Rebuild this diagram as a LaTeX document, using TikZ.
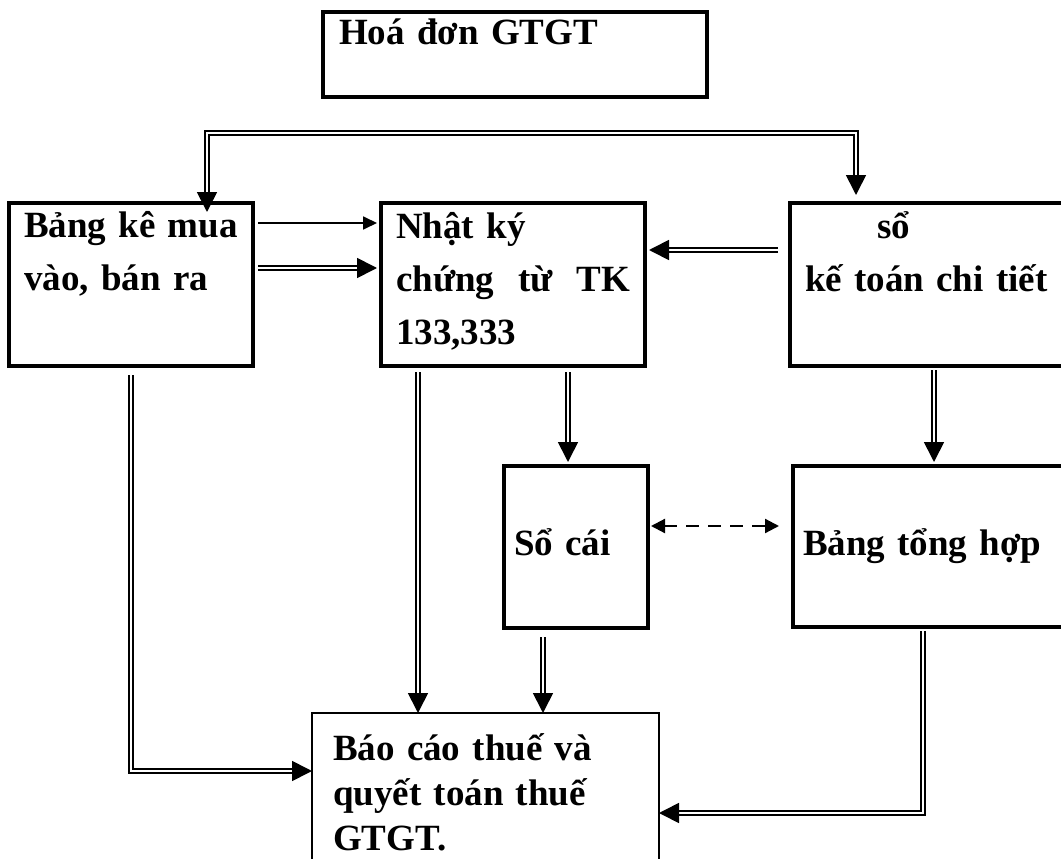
\documentclass[tikz,border=0pt]{standalone}
\usepackage{fontspec}
\setmainfont{Liberation Serif}
\usetikzlibrary{arrows.meta}

\begin{document}
\begin{tikzpicture}[x=1pt, y=1pt,
  box/.style={rectangle, draw, line width=4pt, anchor=north west, outer sep=0pt, inner xsep=15pt, inner ysep=0pt, align=left, font=\bfseries\fontsize{37}{53}\selectfont},
  thinbox/.style={box, line width=2pt},
  dbl/.style={double, line width=1.7pt, double distance=2.6pt, -{Triangle[length=20pt,width=20pt]}},
  arr/.style={line width=1.8pt, -{Triangle[length=14pt,width=13pt]}},
  dsh/.style={line width=2.2pt, dash pattern=on 13pt off 9pt, {Triangle[length=14pt,width=14pt]}-{Triangle[length=14pt,width=14pt]}}
]
\useasboundingbox (0,0) rectangle (1061,-859);
\clip (0,0) rectangle (1061,-859);

% Top: invoice
\node[box, inner xsep=16pt, text width=352pt, text height=33pt, text depth=52pt] (hoadon) at (323,-12) {Hoá đơn GTGT};

% First row
\node[box, text width=214pt, text height=34pt, text depth=129pt] (bangke) at (9,-203) {Bảng kê mua\\vào, bán ra};
\node[box, text width=234pt, text height=35pt, text depth=128pt] (nhatky) at (381,-203) {Nhật ký\\chứng\hfill từ\hfill TK\\133,333};
\node[box, text width=255pt, text height=35pt, text depth=128pt] (sochitiet) at (790,-203) {\hspace*{72pt}sổ\\kế toán chi tiết};

% Second row
\node[box, inner xsep=10pt, text width=124pt, text height=89pt, text depth=73pt] (socai) at (504,-466) {Sổ cái};
\node[box, inner xsep=10pt, text width=262pt, text height=89pt, text depth=72pt] (tonghop) at (793,-466) {Bảng tổng hợp};

% Bottom: tax report
\node[thinbox, inner xsep=21pt, text width=305pt, text height=47pt, text depth=120pt, font=\bfseries\fontsize{37}{45}\selectfont] (baocao) at (312,-713) {Báo cáo thuế và\\quyết toán thuế\\GTGT.};

% Invoice splits to both sides
\coordinate (split) at (531,-133);
\draw[dbl, {Triangle[length=20pt,width=20pt]}-{Triangle[length=20pt,width=20pt]}] ([xshift=198pt,yshift=-9pt]bangke.north west) |- (split) -| ([xshift=66pt,yshift=8pt]sochitiet.north west);

% Into the journal
\draw[arr] ([xshift=5pt,yshift=-20pt]bangke.north east) -- ([xshift=-4pt,yshift=-20pt]nhatky.north west);
\draw[dbl] ([xshift=5pt,yshift=-65pt]bangke.north east) -- ([xshift=-4pt,yshift=-65pt]nhatky.north west);
\draw[dbl] ([xshift=-12pt,yshift=-47pt]sochitiet.north west) -- ([xshift=4pt,yshift=-47pt]nhatky.north east);

% Down to ledger and summary
\draw[dbl] ([xshift=187pt,yshift=-6pt]nhatky.south west) -- ([xshift=64pt,yshift=4pt]socai.north west);
\draw[dbl] ([xshift=144pt,yshift=-4pt]sochitiet.south west) -- ([xshift=141pt,yshift=4pt]tonghop.north west);
\draw[dsh] ([xshift=3pt,yshift=-60pt]socai.north east) -- ([xshift=-14pt,yshift=-60pt]tonghop.north west);

% Into the report
\draw[dbl] ([xshift=37pt,yshift=-6pt]nhatky.south west) -- ([xshift=106pt]baocao.north west);
\draw[dbl] ([xshift=39pt,yshift=-9pt]socai.south west) -- ([xshift=231pt]baocao.north west);
\draw[dbl] ([xshift=122pt,yshift=-9pt]bangke.south west) |- ([yshift=-58pt]baocao.north west);
\draw[dbl] ([xshift=130pt,yshift=-4pt]tonghop.south west) |- ([yshift=-100pt]baocao.north east);

\end{tikzpicture}
\end{document}
